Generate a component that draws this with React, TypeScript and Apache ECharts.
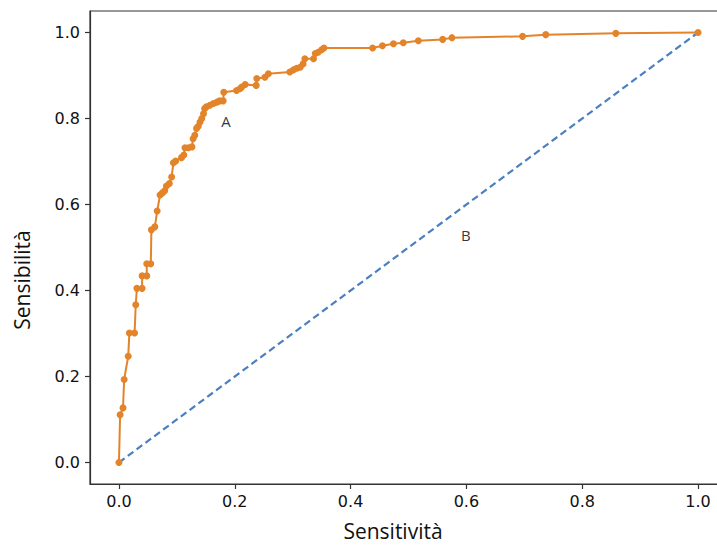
import React, { useEffect, useRef } from "react";
import * as echarts from "echarts";

const fpr = [
  0, 0.002, 0.007, 0.009, 0.016, 0.018, 0.027, 0.029, 0.031, 0.040, 0.040, 0.048, 0.048, 0.055,
  0.056, 0.062, 0.066, 0.071, 0.075, 0.079, 0.082, 0.087, 0.091, 0.094, 0.098, 0.108, 0.112,
  0.114, 0.120, 0.126, 0.128, 0.131, 0.134, 0.137, 0.140, 0.143, 0.146, 0.148, 0.151, 0.157,
  0.163, 0.169, 0.174, 0.180, 0.181, 0.203, 0.209, 0.212, 0.218, 0.237, 0.238, 0.252, 0.258,
  0.295, 0.301, 0.307, 0.313, 0.318, 0.321, 0.336, 0.339, 0.344, 0.350, 0.354, 0.438, 0.455,
  0.474, 0.491, 0.517, 0.559, 0.575, 0.697, 0.737, 0.858, 1.0,
];
const tpr = [
  0, 0.111, 0.127, 0.193, 0.247, 0.301, 0.301, 0.367, 0.405, 0.405, 0.434, 0.434, 0.462, 0.462,
  0.541, 0.548, 0.585, 0.622, 0.627, 0.632, 0.643, 0.649, 0.664, 0.697, 0.701, 0.709, 0.715,
  0.732, 0.732, 0.734, 0.753, 0.761, 0.777, 0.782, 0.792, 0.800, 0.811, 0.823, 0.827, 0.831,
  0.835, 0.838, 0.841, 0.841, 0.861, 0.865, 0.869, 0.873, 0.879, 0.877, 0.893, 0.896, 0.904,
  0.908, 0.913, 0.917, 0.919, 0.927, 0.939, 0.939, 0.951, 0.954, 0.960, 0.964, 0.964, 0.969,
  0.974, 0.976, 0.981, 0.984, 0.988, 0.991, 0.995, 0.998, 1.0,
];
const diagX = [0, 1];
const diagY = [0, 1];
const tickValues = [0, 0.2, 0.4, 0.6, 0.8, 1.0];
const curveLabels = [
  { name: "A", x: 0.185, y: 0.794 },
  { name: "B", x: 0.599, y: 0.529 },
];
const xTitle = "Sensitività";
const yTitle = "Sensibilità";

export default function App() {
  const ref = useRef<HTMLDivElement>(null);
  useEffect(() => {
    if (!ref.current) return;
    const chart = echarts.init(ref.current, undefined, { renderer: "svg" });
    const tickFont = { fontFamily: "DejaVu Sans", fontSize: 16, color: "#111" };
    const axisCommon = {
      type: "value" as const,
      min: -0.05,
      max: 1.05,
      splitLine: { show: false },
      axisLine: { show: true, onZero: false, lineStyle: { color: "#333", width: 1.2 } },
      axisTick: {
        show: true,
        length: 5,
        lineStyle: { color: "#333", width: 1.2 },
        customValues: tickValues,
      },
    };
    chart.setOption({
      animation: false,
      backgroundColor: "#fff",
      grid: {
        left: 90,
        top: 11,
        width: 637,
        height: 473,
        show: true,
        borderColor: "#333",
        borderWidth: 1.2,
      },
      xAxis: {
        ...axisCommon,
        axisLabel: {
          ...tickFont,
          margin: 9,
          customValues: tickValues,
          formatter: (v: number) => v.toFixed(1),
        },
      },
      yAxis: {
        ...axisCommon,
        axisLabel: {
          ...tickFont,
          margin: 10,
          customValues: tickValues,
          formatter: (v: number) => v.toFixed(1),
        },
      },
      series: [
        {
          type: "line",
          data: diagX.map((x, i) => [x, diagY[i]]),
          showSymbol: false,
          lineStyle: { color: "#4a7fc0", width: 2.2, type: [7, 4] },
          z: 2,
        },
        {
          type: "line",
          data: fpr.map((x, i) => [x, tpr[i]]),
          symbol: "circle",
          symbolSize: 7,
          showSymbol: true,
          itemStyle: { color: "#e3842a" },
          lineStyle: { color: "#e3842a", width: 2 },
          z: 3,
        },
        {
          type: "scatter",
          data: curveLabels.map((d) => [d.x, d.y, d.name]),
          symbolSize: 0,
          label: {
            show: true,
            position: "inside",
            formatter: (p: any) => p.value[2],
            fontFamily: "Open Sans",
            fontSize: 15,
            color: "#000",
          },
          z: 4,
        },
      ],
      graphic: [
        {
          type: "text",
          x: 393,
          y: 531,
          style: {
            text: xTitle,
            fontFamily: "Open Sans",
            fontSize: 21,
            fill: "#111",
            textAlign: "center",
            textVerticalAlign: "middle",
          },
        },
        {
          type: "text",
          x: 22,
          y: 280,
          rotation: Math.PI / 2,
          style: {
            text: yTitle,
            fontFamily: "Open Sans",
            fontSize: 21,
            fill: "#111",
            textAlign: "center",
            textVerticalAlign: "middle",
          },
        },
      ],
    });
    return () => chart.dispose();
  }, []);
  return (
    <div style={{ position: "fixed", left: 0, top: 0, width: 717, height: 547, overflow: "hidden", background: "#fff" }}>
      <div ref={ref} style={{ width: 740, height: 547 }} />
    </div>
  );
}
